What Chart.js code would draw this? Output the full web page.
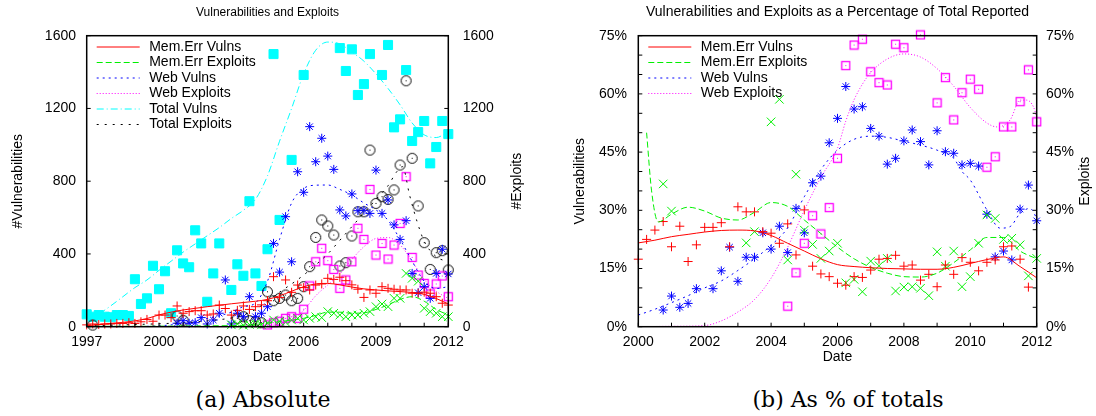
<!DOCTYPE html>
<html>
<head>
<meta charset="utf-8">
<script src="https://cdn.jsdelivr.net/npm/chart.js@4/dist/chart.umd.min.js"></script>
<style>
  body { margin: 0; background: #fff; width: 1096px; height: 416px; overflow: hidden; position: relative; }
  canvas { position: absolute; top: 0; }
  #absChart { left: 0; }
  #pctChart { left: 548px; }
  .caption { position: absolute; top: 387px; font-family: 'DejaVu Serif', 'Liberation Serif', serif; font-size: 22px; color: #000; transform: translateX(-50%); white-space: nowrap; }
</style>
</head>
<body>
<canvas id="absChart" width="548" height="375"></canvas>
<canvas id="pctChart" width="548" height="375"></canvas>
<div class="caption" style="left:263px">(a) Absolute</div>
<div class="caption" style="left:848px">(b) As % of totals</div>
<script>
// quarterly samples, panel (a) starts 1997.0, panel (b) starts 2000.0
const absStart = 1997;
const pctStart = 2000;

const absTotalVulns = [68, 55, 64, 55, 52, 64, 64, 59, 261, 125, 156, 335, 206, 305, 74, 420,
  348, 327, 530, 458, 137, 293, 458, null, 202, 343, 280, 690, 293, 224, 426, 1499,
  587, 1800, 917, 1800, 1384, 1800, 1800, 1800, 1800, 1800, 1532, 1406, 1525, 1274, 1334, 1499,
  1800, 1384, 1549, 1096, 1140, 1411, 1021, 1070, 1131, 898, 988, 1131, 1059];
const absTotalExploits = [null, 9, null, null, null, null, null, null, null, null, null, null, null, null, null, 59,
  35, null, null, null, null, null, null, null, null, 46, 55, 33, 28, 22, 192, 143,
  156, 174, 143, 156, 220, 330, 491, 587, 554, 504, 334, 352, 499, 632, 632, 971,
  678, 715, 700, 752, 889, 1352, 926, 664, 462, 315, 407, 418, 312];
const absMemVulns = [10, 15, 12, 15, 15, 18, 18, 22, 18, 27, 40, 30, 64, 64, 50, 114,
  74, 83, 88, 88, 64, 70, 119, 100, 64, 90, 114, 95, 110, 120, 143, 275,
  160, 257, 189, 229, 215, 202, 229, 235, 266, 260, 272, 253, 230, 206, 161, 202,
  184, 220, 211, 206, 202, 202, 184, 184, 190, 184, 165, 129, 119];
const absMemExploits = [null, null, null, null, null, null, null, null, null, null, null, null, null, null, null, null,
  null, null, null, null, null, null, null, null, 10, 15, 8, 12, 15, 10, 20, 37,
  30, 25, 37, 46, 37, 46, 55, 50, 83, 74, 64, 55, 64, 64, 74, 83,
  110, 125, 110, 156, 156, 293, 266, 250, 101, 83, 74, 55, 55];
const absWebVulns = [null, null, null, null, null, null, null, null, null, null, null, null, null, null, null, 19,
  33, 19, 22, 50, 15, 37, 74, 257, 15, 74, 55, 165, 55, 74, 110, 458,
  300, 605, 357, 852, 739, 1100, 907, 1036, 938, 865, 642, 609, 730, 638, 640, 623,
  861, 623, 697, 560, 480, 583, 293, 187, 220, 156, 293, 426, 290];
const absWebExploits = [null, null, null, null, null, null, null, null, null, null, null, null, null, null, null, null,
  null, null, null, null, null, null, null, null, null, null, null, null, null, null, 10, 22,
  30, 46, 55, 46, 96, 224, 357, 431, 363, 315, 211, 257, 357, 541, 480, 755,
  394, 458, 372, 449, 568, 825, 381, 284, 238, 180, 235, 279, 165];

// smoothed trend lines of panel (a)
const absFitYears = [1997, 1997.5, 1998, 1998.5, 1999, 1999.5, 2000, 2000.5, 2001, 2001.5, 2002, 2002.5,
  2003, 2003.5, 2004, 2004.5, 2005, 2005.5, 2006, 2006.5, 2007, 2007.5, 2008, 2008.5,
  2009, 2009.5, 2010, 2010.5, 2011, 2011.5, 2012];
const absFitTotalVulns = [40, 70, 115, 165, 215, 257, 310, 360, 410, 455, 500, 545, 595, 640, 700, 830,
  1020, 1200, 1390, 1520, 1565, 1555, 1510, 1460, 1390, 1310, 1220, 1120, 1055, 1040, 1072];
const absFitMemVulns = [5, 12, 18, 24, 32, 45, 65, 80, 92, 101, 110, 118, 126, 133, 140, 150,
  170, 195, 220, 235, 238, 230, 218, 208, 202, 197, 193, 188, 178, 155, 125];
const absFitMemExploits = [2, 2, 2, 2, 2, 2, 3, 3, 4, 4, 5, 5, 6, 8, 12, 20,
  28, 36, 46, 62, 80, 80, 74, 76, 95, 120, 150, 165, 140, 95, 64];
const absFitWebVulns = [0, 0, 0, 0, 1, 2, 5, 10, 20, 30, 45, 60, 80, 110, 130, 250,
  480, 680, 760, 778, 779, 755, 724, 680, 642, 585, 480, 360, 250, 210, 220];
const absFitWebExploits = [null, null, null, null, null, null, null, null, null, null, null, null, null, null, null, 5,
  15, 40, 90, 170, 230, 290, 370, 440, 485, 490, 450, 360, 260, 195, 155];
const absFitExpYears = [1997, 1998, 1999, 2000, 2001, 2002, 2003, 2003.5, 2004, 2004.5, 2005, 2005.5, 2006, 2006.5,
  2007, 2007.5, 2008, 2008.5, 2009, 2009.5, 2009.85, 2010.1, 2010.4, 2010.7, 2011, 2011.5, 2012];
const absFitTotalExploits = [5, 8, 12, 16, 22, 32, 48, 65, 95, 140, 190, 235, 284, 340,
  400, 475, 550, 625, 700, 775, 850, 880, 720, 580, 470, 385, 357];

// panel (b), percent of totals
const pctMemVulns = [17.4, 22.5, 24.9, 27.1, 20.6, 25.9, 16.8, 21.1, 25.6, 25.6, 26.8, 20.6,
  30.9, 29.6, 29.6, 24.5, 24.1, 21.5, 26.5, 18.5, 30.1, 15.6, 13.6, 12.9,
  11.2, 10.7, 12.9, 12.7, 14.6, 17.4, 17.6, 18.4, 15.6, 15.9, 12.0, 13.5,
  10.3, 15.9, 13.5, 17.8, 16.6, 14.4, 16.6, 17.2, 20.6, 20.8, 17.4, 10.2, null];
const pctMemExploits = [null, null, null, 36.8, 29.8, null, null, null, null, null, null, null,
  null, 21.6, 24.5, null, 52.8, 58.6, 17.2, 39.3, 24.9, 21.2, 17.6, 19.5,
  21.5, 11.3, 12.2, 9.0, 16.9, 15.7, 17.6, 9.2, 10.2, 10.3, 9.9, 8.0,
  19.3, 15.6, 19.5, 10.3, 12.9, 21.5, 28.8, 27.9, 22.5, 22.8, 21.1, 13.1, 17.6];
const pctWebVulns = [null, null, null, 4.3, 7.9, 5.0, 6.0, 9.8, null, 9.8, 14.4, 20.5,
  11.7, 17.9, 17.9, 24.2, 20.0, 25.9, 19.1, 30.5, 24.2, 37.1, 38.8, 47.4,
  53.7, 61.9, 56.1, 56.7, 51.1, 49.1, 41.9, 43.4, 47.9, 50.7, 47.7, 41.7,
  50.5, 45.1, 44.7, 41.7, 42.1, 41.4, 29.0, 18.0, 19.5, 17.2, 30.3, 36.5, 27.3];
const pctWebExploits = [null, null, null, null, null, null, null, null, null, null, null, null,
  null, null, null, null, null, null, 5.3, 13.9, 21.5, 28.6, 23.9, 30.7,
  43.4, 67.3, 72.6, 74.1, 65.7, 62.9, 62.3, 72.8, 71.9, 90, 75.2, 90,
  57.7, 64.2, 53.3, 60.3, 63.8, 61.2, 41.1, 43.8, 51.5, 51.5, 58.0, 66.2, 52.8];

const pctFitYears = [2000, 2000.5, 2001, 2001.5, 2002, 2002.5, 2003, 2003.5, 2004, 2004.5, 2005, 2005.5,
  2006, 2006.5, 2007, 2007.5, 2008, 2008.5, 2009, 2009.5, 2010, 2010.5, 2011, 2011.5, 2012];
const pctFitMemVulns = [21.6, 22.3, 23.2, 23.8, 24.4, 24.8, 24.9, 24.7, 23.5, 21.5, 19.5, 17.5,
  16.0, 15.5, 15.2, 15.0, 14.9, 14.8, 14.8, 15.3, 16.3, 17.3, 18.0, 15.5, 12.6];
const pctFitMemExpYears = [2000.25, 2000.4, 2000.6, 2001, 2001.5, 2002, 2002.5, 2003, 2003.5, 2004, 2004.5, 2005, 2005.5,
  2006, 2006.5, 2007, 2007.5, 2008, 2008.5, 2009, 2009.5, 2010, 2010.5, 2011, 2011.5, 2012];
const pctFitMemExploits = [50, 35, 27, 29, 30.8, 29.8, 28, 27.5, 29.5, 32, 31, 27.5, 24,
  20.5, 17.5, 15.3, 13.8, 12.9, 12.8, 13.8, 16.5, 19.8, 23, 23, 19.5, 17.5];
const pctFitWebVulnYears = [2000, 2000.5, 2001, 2001.5, 2002, 2002.5, 2003, 2003.5, 2004, 2004.5, 2005, 2005.5, 2006, 2006.5,
  2007, 2007.5, 2008, 2008.5, 2009, 2009.5, 2009.75, 2010, 2010.5, 2010.9, 2011.2, 2011.5, 2011.8, 2012];
const pctFitWebVulns = [3.0, 4.5, 6.2, 8.0, 10.0, 11.8, 14.5, 17.5, 21.0, 25.5, 33.5, 40.5, 45.5, 48.3,
  49.1, 48.8, 47.8, 46.8, 45.5, 43.4, 40, 37.8, 30.1, 25.4, 25.8, 29.2, 30.5, 28.0];
const pctFitWebExpYears = [2000, 2001, 2002, 2002.5, 2003, 2003.5, 2004, 2004.5, 2005, 2005.5, 2006, 2006.25, 2006.5, 2006.75,
  2007, 2007.5, 2008, 2008.5, 2009, 2009.5, 2010, 2010.5, 2010.8, 2011.2, 2011.5, 2011.7, 2011.9, 2012];
const pctFitWebExploits = [0, 0.1, 0.3, 1.5, 3.8, 7, 12.5, 20.5, 30, 38.5, 46, 53, 58.5, 62.5,
  65.5, 69, 70.3, 69.5, 66.5, 62, 56.5, 52.5, 51.5, 53.3, 58.4, 58.4, 56.7, 54.1];

const absTicksX = [1997, 2000, 2003, 2006, 2009, 2012];
const pctTicksX = [2000, 2002, 2004, 2006, 2008, 2010, 2012];

const FONT = "'Liberation Sans', Arial, Helvetica, sans-serif";
Chart.defaults.font.family = FONT;
Chart.defaults.color = '#000';

const colors = {
  red: '#ff0000',
  green: '#00f000',
  blue: '#0000ff',
  magenta: '#ff00ff',
  cyan: '#00ffff',
  black: '#000000',
};

function quarterly(start, values) {
  return values.map((v, i) => ({ x: start + i / 4, y: v }));
}
function curve(years, values) {
  return years.map((x, i) => ({ x, y: values[i] }));
}

function marker(size, draw) {
  const c = document.createElement('canvas');
  c.width = size;
  c.height = size;
  draw(c.getContext('2d'), size / 2);
  return c;
}
const circleDot = marker(13, (g, c) => {
  g.strokeStyle = '#000';
  g.lineWidth = 1;
  g.beginPath();
  g.arc(c, c, 5, 0, Math.PI * 2);
  g.stroke();
  g.fillStyle = '#000';
  g.fillRect(c - 0.5, c - 0.5, 1, 1);
});
const squareDot = marker(11, (g, c) => {
  g.strokeStyle = colors.magenta;
  g.lineWidth = 1.3;
  g.strokeRect(1.5, 1.5, 8, 8);
  g.fillStyle = colors.magenta;
  g.fillRect(c - 0.5, c - 0.5, 1, 1);
});

function points(data, style, color, radius, yAxisID) {
  return {
    data, yAxisID,
    showLine: false,
    pointStyle: style,
    pointRadius: radius,
    pointHoverRadius: radius,
    pointBorderWidth: 1,
    borderColor: color,
    backgroundColor: color,
    clip: 8,
  };
}
function trend(label, data, color, dash, yAxisID) {
  return {
    label, data, yAxisID,
    showLine: true,
    pointRadius: 0,
    borderColor: color,
    backgroundColor: color,
    borderWidth: 1,
    borderDash: dash,
    cubicInterpolationMode: 'monotone',
    spanGaps: false,
  };
}

const frameTicks = {
  id: 'frameTicks',
  afterDatasetsDraw(chart, args, opts) {
    const { ctx, chartArea: a } = chart;
    ctx.save();
    ctx.strokeStyle = '#000';
    ctx.lineWidth = 1;
    Object.values(chart.scales).forEach((s) => {
      s.ticks.forEach((t) => {
        const p = s.getPixelForValue(t.value);
        ctx.beginPath();
        if (s.axis === 'x') {
          ctx.moveTo(p, a.bottom);
          ctx.lineTo(p, a.bottom - 4);
        } else if (s.position === 'left') {
          ctx.moveTo(a.left, p);
          ctx.lineTo(a.left + 4, p);
        } else {
          ctx.moveTo(a.right, p);
          ctx.lineTo(a.right - 4, p);
        }
        ctx.stroke();
      });
    });
    ctx.lineWidth = 1.5;
    ctx.strokeRect(a.left, a.top, a.right - a.left, a.bottom - a.top);
    // right axis title, read bottom to top like the left one
    ctx.font = '14px ' + FONT;
    ctx.fillStyle = '#000';
    ctx.textAlign = 'center';
    ctx.textBaseline = 'middle';
    ctx.translate(opts.rightTitleX, (a.top + a.bottom) / 2);
    ctx.rotate(-Math.PI / 2);
    ctx.fillText(opts.rightTitle, 0, 0);
    ctx.restore();
  },
};

const insideLegend = {
  id: 'insideLegend',
  afterDraw(chart, args, opts) {
    const { ctx, chartArea: a } = chart;
    ctx.save();
    ctx.font = '14px ' + FONT;
    ctx.textBaseline = 'middle';
    ctx.fillStyle = '#000';
    opts.items.forEach((idx, i) => {
      const ds = chart.data.datasets[idx];
      const y = a.top + 11.3 + i * 15.5;
      ctx.strokeStyle = ds.borderColor;
      ctx.lineWidth = 1;
      ctx.setLineDash(ds.borderDash || []);
      ctx.beginPath();
      ctx.moveTo(a.left + 10, y);
      ctx.lineTo(a.left + 53, y);
      ctx.stroke();
      ctx.setLineDash([]);
      ctx.fillText(ds.label, a.left + 62.5, y);
    });
    ctx.restore();
  },
};

function axisX(min, max, labels, height) {
  return {
    type: 'linear', min, max,
    grid: { display: false, drawTicks: false },
    border: { display: false },
    ticks: {
      stepSize: 1, autoSkip: false, maxRotation: 0, padding: 7, font: { size: 14 },
      callback: (v) => (labels.includes(v) ? String(v) : ''),
    },
    title: { display: true, text: 'Date', font: { size: 14 }, padding: { top: 0, bottom: 9.6 } },
    afterFit: (s) => { s.height = height; },
  };
}
function axisY(position, max, step, fmt, title, titlePad, tickPad, width) {
  return {
    type: 'linear', position, min: 0, max,
    grid: { display: false, drawTicks: false },
    border: { display: false },
    ticks: { stepSize: step, autoSkip: false, padding: tickPad, font: { size: 14 }, callback: fmt },
    title: { display: !!title, text: title, font: { size: 14 }, padding: { top: titlePad, bottom: 0 } },
    afterFit: (s) => { s.width = width; },
  };
}

const dash = {
  memExp: [6, 3],
  webVul: [2, 4],
  webExp: [1, 2],
  totVul: [7, 3, 1, 3],
  totExp: [2, 6],
};

new Chart(document.getElementById('absChart'), {
  type: 'scatter',
  data: {
    datasets: [
      trend('Mem.Err Vulns', curve(absFitYears, absFitMemVulns), colors.red, [], 'y'),
      trend('Mem.Err Exploits', curve(absFitYears, absFitMemExploits), colors.green, dash.memExp, 'y1'),
      trend('Web Vulns', curve(absFitYears, absFitWebVulns), colors.blue, dash.webVul, 'y'),
      trend('Web Exploits', curve(absFitYears, absFitWebExploits), colors.magenta, dash.webExp, 'y1'),
      trend('Total Vulns', curve(absFitYears, absFitTotalVulns), colors.cyan, dash.totVul, 'y'),
      trend('Total Exploits', curve(absFitExpYears, absFitTotalExploits), colors.black, dash.totExp, 'y1'),
      points(quarterly(absStart, absMemVulns), 'cross', colors.red, 4.5, 'y'),
      points(quarterly(absStart, absMemExploits), 'crossRot', colors.green, 6, 'y1'),
      points(quarterly(absStart, absWebVulns), 'star', colors.blue, 4.5, 'y'),
      points(quarterly(absStart, absWebExploits), squareDot, colors.magenta, 5, 'y1'),
      points(quarterly(absStart, absTotalExploits), circleDot, colors.black, 5, 'y1'),
      points(quarterly(absStart, absTotalVulns), 'rect', colors.cyan, 6.4, 'y'),
    ],
  },
  options: {
    responsive: false,
    animation: false,
    layout: { padding: 0 },
    plugins: {
      legend: { display: false },
      tooltip: { enabled: false },
      title: {
        display: true, text: 'Vulnerabilities and Exploits', fullSize: false,
        font: { size: 12, weight: 'normal' }, color: '#000', padding: { top: 5, bottom: 16.3 },
      },
      insideLegend: { items: [0, 1, 2, 3, 4, 5] },
      frameTicks: { rightTitle: '#Exploits', rightTitleX: 517.5 },
    },
    scales: {
      x: axisX(1997, 2012, absTicksX, 48.3),
      y: axisY('left', 1600, 400, (v) => String(v), '#Vulnerabilities', 9.6, 10.7, 86.7),
      y1: axisY('right', 1600, 400, (v) => String(v), '', 0, 14.4, 99.7),
    },
  },
  plugins: [frameTicks, insideLegend],
});

const pctFmt = (v) => (v % 15 === 0 ? v + '%' : '');

new Chart(document.getElementById('pctChart'), {
  type: 'scatter',
  data: {
    datasets: [
      trend('Mem.Err Vulns', curve(pctFitYears, pctFitMemVulns), colors.red, [], 'y'),
      trend('Mem.Err Exploits', curve(pctFitMemExpYears, pctFitMemExploits), colors.green, dash.memExp, 'y1'),
      trend('Web Vulns', curve(pctFitWebVulnYears, pctFitWebVulns), colors.blue, dash.webVul, 'y'),
      trend('Web Exploits', curve(pctFitWebExpYears, pctFitWebExploits), colors.magenta, dash.webExp, 'y1'),
      points(quarterly(pctStart, pctMemVulns), 'cross', colors.red, 4.5, 'y'),
      points(quarterly(pctStart, pctMemExploits), 'crossRot', colors.green, 6, 'y1'),
      points(quarterly(pctStart, pctWebVulns), 'star', colors.blue, 4.5, 'y'),
      points(quarterly(pctStart, pctWebExploits), squareDot, colors.magenta, 5, 'y1'),
    ],
  },
  options: {
    responsive: false,
    animation: false,
    layout: { padding: 0 },
    plugins: {
      legend: { display: false },
      tooltip: { enabled: false },
      title: {
        display: true, text: 'Vulnerabilities and Exploits as a Percentage of Total Reported', fullSize: false,
        font: { size: 14, weight: 'normal' }, color: '#000', padding: { top: 3.6, bottom: 15.3 },
      },
      insideLegend: { items: [0, 1, 2, 3] },
      frameTicks: { rightTitle: 'Exploits', rightTitleX: 537 },
    },
    scales: {
      x: axisX(2000, 2012, pctTicksX, 48.3),
      y: axisY('left', 75, 5, pctFmt, 'Vulnerabilities', 23.6, 11.3, 90.3),
      y1: axisY('right', 75, 5, pctFmt, '', 0, 9.3, 59.3),
    },
  },
  plugins: [frameTicks, insideLegend],
});
</script>
</body>
</html>
